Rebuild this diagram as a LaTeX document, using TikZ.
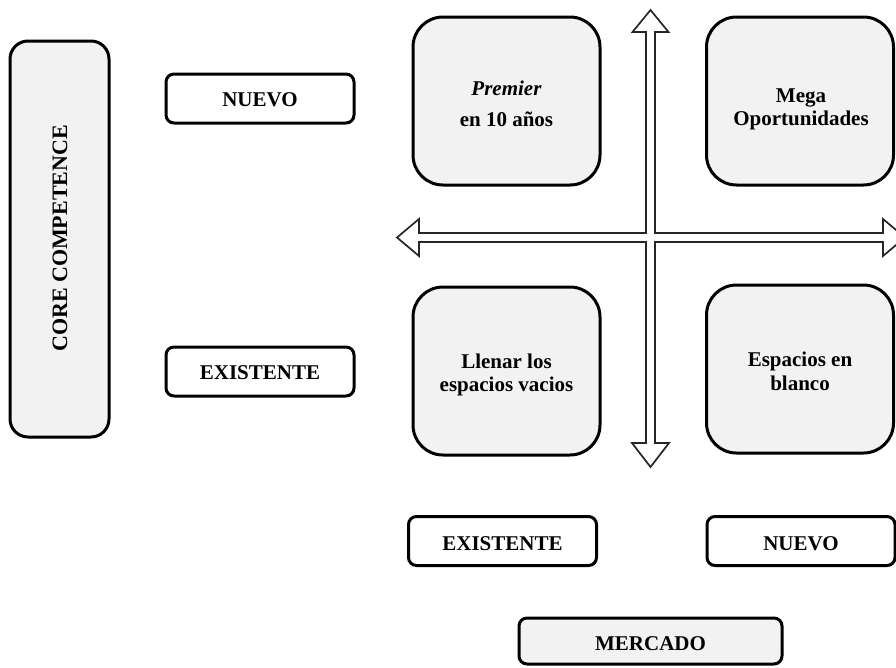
\documentclass[tikz,border=0pt]{standalone}
\usepackage{fontspec}
\setmainfont{Liberation Serif}
\definecolor{panel}{HTML}{F2F2F2}
\tikzset{
  lbl/.style={font=\fontsize{21}{23}\selectfont\bfseries, anchor=base, align=center, inner sep=0pt},
  bigbox/.style={draw=black, line width=3pt, fill=panel, rounded corners=30pt,
    minimum width=187pt, minimum height=168pt, inner sep=0pt},
  tagbox/.style={draw=black, line width=3pt, fill=white, rounded corners=8pt,
    minimum width=188pt, minimum height=49pt, inner sep=0pt},
  crossarrow/.style={draw=black!85, line width=1.7pt, fill=white, line join=miter}
}
\begin{document}
\begin{tikzpicture}[x=1pt, y=-1pt]
  \clip (0,0) rectangle (896,667);
  \fill[white] (0,0) rectangle (896,667);

  % two-way axes drawn as one outline
  \draw[crossarrow]
    (650.5,10) -- (668.5,32) -- (655,32) -- (655,233) -- (883,233) -- (883,219)
    -- (905,237.5) -- (883,256) -- (883,242) -- (655,242) -- (655,443)
    -- (669,443) -- (650.5,467) -- (632,443) -- (646,443) -- (646,242)
    -- (419,242) -- (419,256) -- (397,237.5) -- (419,219) -- (419,233)
    -- (646,233) -- (646,32) -- (632.5,32) -- cycle;

  % vertical axis title
  \node[draw=black, line width=3pt, fill=panel, rounded corners=18pt,
        minimum width=99pt, minimum height=396pt, inner sep=0pt] (core) at (59.5,239) {};
  \node[font=\fontsize{22}{24}\selectfont\bfseries, rotate=90, inner sep=0pt] (coretext) at (60,238.5) {CORE COMPETENCE};

  % row labels
  \node[tagbox] (rnuevo) at (260,98.5) {};
  \node[lbl] (rnuevotext) at (260,106) {NUEVO};
  \node[tagbox] (rexist) at (260,371.5) {};
  \node[lbl] (rexisttext) at (260,379.5) {EXISTENTE};

  % quadrants (multi-line labels sit on the baseline of their last line)
  \node[bigbox] (premier) at (506.5,101) {};
  \node[lbl] (premiertext) at (506.5,126) {\textit{Premier}\\[8pt]en 10 años};
  \node[bigbox] (mega) at (800,101) {};
  \node[lbl] (megatext) at (801,125) {Mega\\Oportunidades};
  \node[bigbox] (llenar) at (506.5,371) {};
  \node[lbl] (llenartext) at (506.5,391) {Llenar los\\espacios vacios};
  \node[bigbox] (blanco) at (800,369) {};
  \node[lbl, font=\fontsize{21}{24}\selectfont\bfseries] (blancotext) at (800,390) {Espacios en\\blanco};

  % column labels
  \node[tagbox] (cexist) at (502.5,541) {};
  \node[lbl] (cexisttext) at (502.5,550) {EXISTENTE};
  \node[tagbox] (cnuevo) at (801,541) {};
  \node[lbl] (cnuevotext) at (801,550) {NUEVO};

  % horizontal axis title
  \node[draw=black, line width=3pt, fill=panel, rounded corners=8pt,
        minimum width=263pt, minimum height=46pt, inner sep=0pt] (mercado) at (650.5,641) {};
  \node[lbl] (mercadotext) at (650.5,650.5) {MERCADO};
\end{tikzpicture}
\end{document}
